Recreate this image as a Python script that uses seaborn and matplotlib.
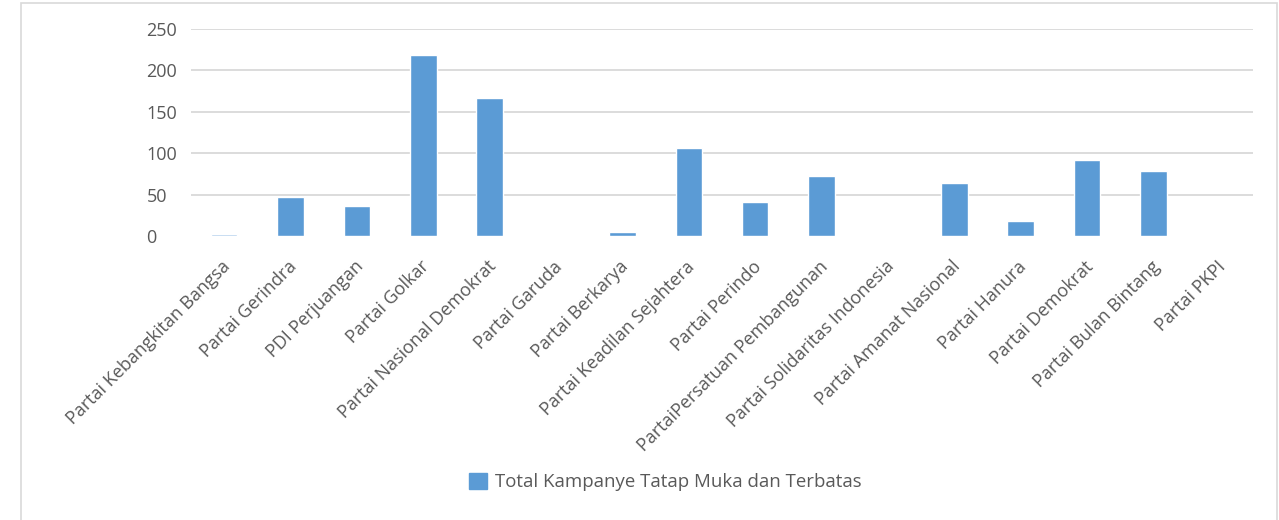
import pandas as pd
import matplotlib.pyplot as plt
import matplotlib.patches as mpatches
import matplotlib.transforms as mtrans
import seaborn as sns
import numpy as np


#####
##### Data
#####

parties = ['Partai Kebangkitan Bangsa', 'Partai Gerindra', 'PDI Perjuangan', 'Partai Golkar',
           'Partai Nasional Demokrat', 'Partai Garuda', 'Partai Berkarya', 'Partai Keadilan Sejahtera',
           'Partai Perindo', 'PartaiPersatuan Pembangunan', 'Partai Solidaritas Indonesia',
           'Partai Amanat Nasional', 'Partai Hanura', 'Partai Demokrat', 'Partai Bulan Bintang',
           'Partai PKPI']
total = [3, 47, 36, 219, 167, 0, 5, 106, 41, 72, 0, 64, 18, 92, 78, 0]
series_name = 'Total Kampanye Tatap Muka dan Terbatas'
yticks = [0, 50, 100, 150, 200, 250]

df = pd.DataFrame({'party': parties, 'total': total})

#####
##### Plot
#####

sns.set_style('white')
plt.rcParams['font.family'] = ['Open Sans', 'DejaVu Sans']

txt = '#595959'
blue = '#5B9BD5'
# first bar is shown lighter in the original
colors = ['#A9C9EA'] + [blue] * (len(parties) - 1)

fig = plt.figure(figsize=(12.79, 5.20), dpi=100)
ax = fig.add_axes([191/1279, 1 - 236/520, (1253-191)/1279, (236-29)/520])

sns.barplot(data=df, x='party', y='total', hue='party', palette=colors, legend=False,
            width=0.4, saturation=1, ax=ax)

ax.set_ylim(0, 250)
ax.set_yticks(yticks)
ax.yaxis.grid(True, color='#D9D9D9', linewidth=1.3)
ax.set_axisbelow(True)
ax.yaxis.get_gridlines()[0].set_visible(False)
for s in ax.spines.values():
    s.set_visible(False)

ax.set_xlabel('')
ax.set_ylabel('')
ax.tick_params(axis='both', length=0, labelsize=13, labelcolor=txt)
ax.tick_params(axis='y', pad=32)
for lab in ax.get_yticklabels():
    lab.set_horizontalalignment('left')
ax.set_xticks(range(len(parties)))
ax.set_xticklabels(parties, rotation=45, ha='right', va='top', rotation_mode='anchor')
ax.tick_params(axis='x', pad=15.5)
shift = mtrans.ScaledTranslation(-3/100, 0, fig.dpi_scale_trans)
for lab in ax.get_xticklabels():
    lab.set_transform(lab.get_transform() + shift)

# legend
handle = mpatches.Patch(color=blue, label=series_name)
fig.legend(handles=[handle], loc='center', bbox_to_anchor=(665/1279, 1 - 482/520),
           frameon=False, fontsize=13.4, labelcolor=txt, handlelength=1.0, handleheight=1.0,
           handletextpad=0.4)

# chart border
fig.patches.append(mpatches.Rectangle((21/1279, -0.01), (1277-21)/1279, (520-3)/520 + 0.01,
                                      transform=fig.transFigure, fill=False,
                                      edgecolor='#D9D9D9', linewidth=1.2))

fig.savefig('out.png', dpi=100)
